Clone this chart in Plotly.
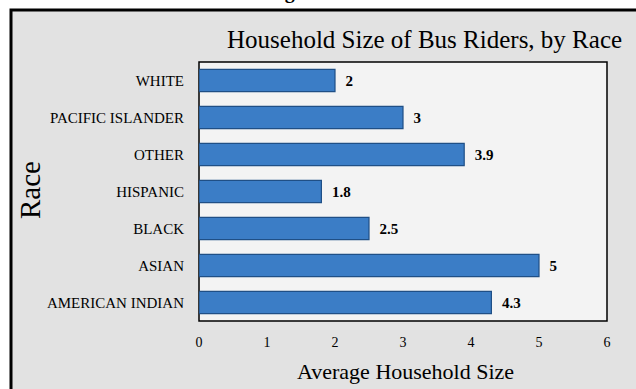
import plotly.graph_objects as go

races = ["AMERICAN INDIAN", "ASIAN", "BLACK", "HISPANIC", "OTHER", "PACIFIC ISLANDER", "WHITE"]
household_size = [4.3, 5, 2.5, 1.8, 3.9, 3, 2]
x_ticks = [0, 1, 2, 3, 4, 5, 6]

W, H = 636, 389
L, R, T, B = 199, 29, 62, 68
pw, ph = W - L - R, H - T - B


def px(x):
    return (x - L) / pw


def py(y):
    return (H - B - y) / ph


SERIF = "Liberation Serif, Times New Roman, serif"

fig = go.Figure(
    go.Bar(
        x=household_size,
        y=races,
        orientation="h",
        marker=dict(color="#3b7dc6", line=dict(color="#1f4f86", width=1.2)),
        texttemplate="\u00a0\u00a0%{x}",
        textposition="outside",
        textfont=dict(family=SERIF, size=15, color="black", weight="bold"),
        cliponaxis=False,
        width=0.6,
    )
)

fig.update_layout(
    width=W,
    height=H,
    margin=dict(l=L, r=R, t=T, b=B),
    paper_bgcolor="white",
    plot_bgcolor="rgba(0,0,0,0)",
    showlegend=False,
    font=dict(family=SERIF, color="black"),
    shapes=[
        dict(type="rect", xref="paper", yref="paper", x0=px(11), x1=px(720), y0=py(450), y1=py(10),
             fillcolor="#e2e2e2", line=dict(color="black", width=3), layer="below"),
        dict(type="rect", xref="paper", yref="paper", x0=0, x1=1, y0=0, y1=1,
             fillcolor="#f3f3f3", line=dict(color="black", width=1.5), layer="below"),
    ],
    annotations=[
        dict(text="Household Size of Bus Riders, by Race", x=px(424), y=py(40), xref="paper", yref="paper",
             showarrow=False, font=dict(family=SERIF, size=25, color="black"), xanchor="center", yanchor="middle"),
        dict(text="Average Household Size", x=px(405), y=py(371), xref="paper", yref="paper",
             showarrow=False, font=dict(family=SERIF, size=22, color="black"), xanchor="center", yanchor="middle"),
        dict(text="Race", x=px(30), y=py(190), xref="paper", yref="paper", textangle=-90,
             showarrow=False, font=dict(family=SERIF, size=29, color="black"), xanchor="center", yanchor="middle"),
        dict(text="<b>Figure</b>", x=px(295), y=py(5), xref="paper", yref="paper",
             showarrow=False, font=dict(family=SERIF, size=20, color="black"), xanchor="center", yanchor="bottom"),
    ],
    xaxis=dict(
        range=[0, 6],
        tickvals=x_ticks,
        ticktext=[str(v) for v in x_ticks],
        showgrid=False,
        zeroline=False,
        showline=False,
        ticks="",
        ticklabelstandoff=11,
        tickfont=dict(family=SERIF, size=14, color="black"),
        fixedrange=True,
    ),
    yaxis=dict(
        categoryorder="array",
        categoryarray=races,
        showgrid=False,
        zeroline=False,
        showline=False,
        ticks="",
        ticklabelstandoff=14,
        tickfont=dict(family=SERIF, size=15, color="black"),
        fixedrange=True,
    ),
)

fig.write_html(
    "out.html",
    config={"displayModeBar": False},
    post_script="document.body.style.margin='0';document.body.style.overflow='hidden';",
)
